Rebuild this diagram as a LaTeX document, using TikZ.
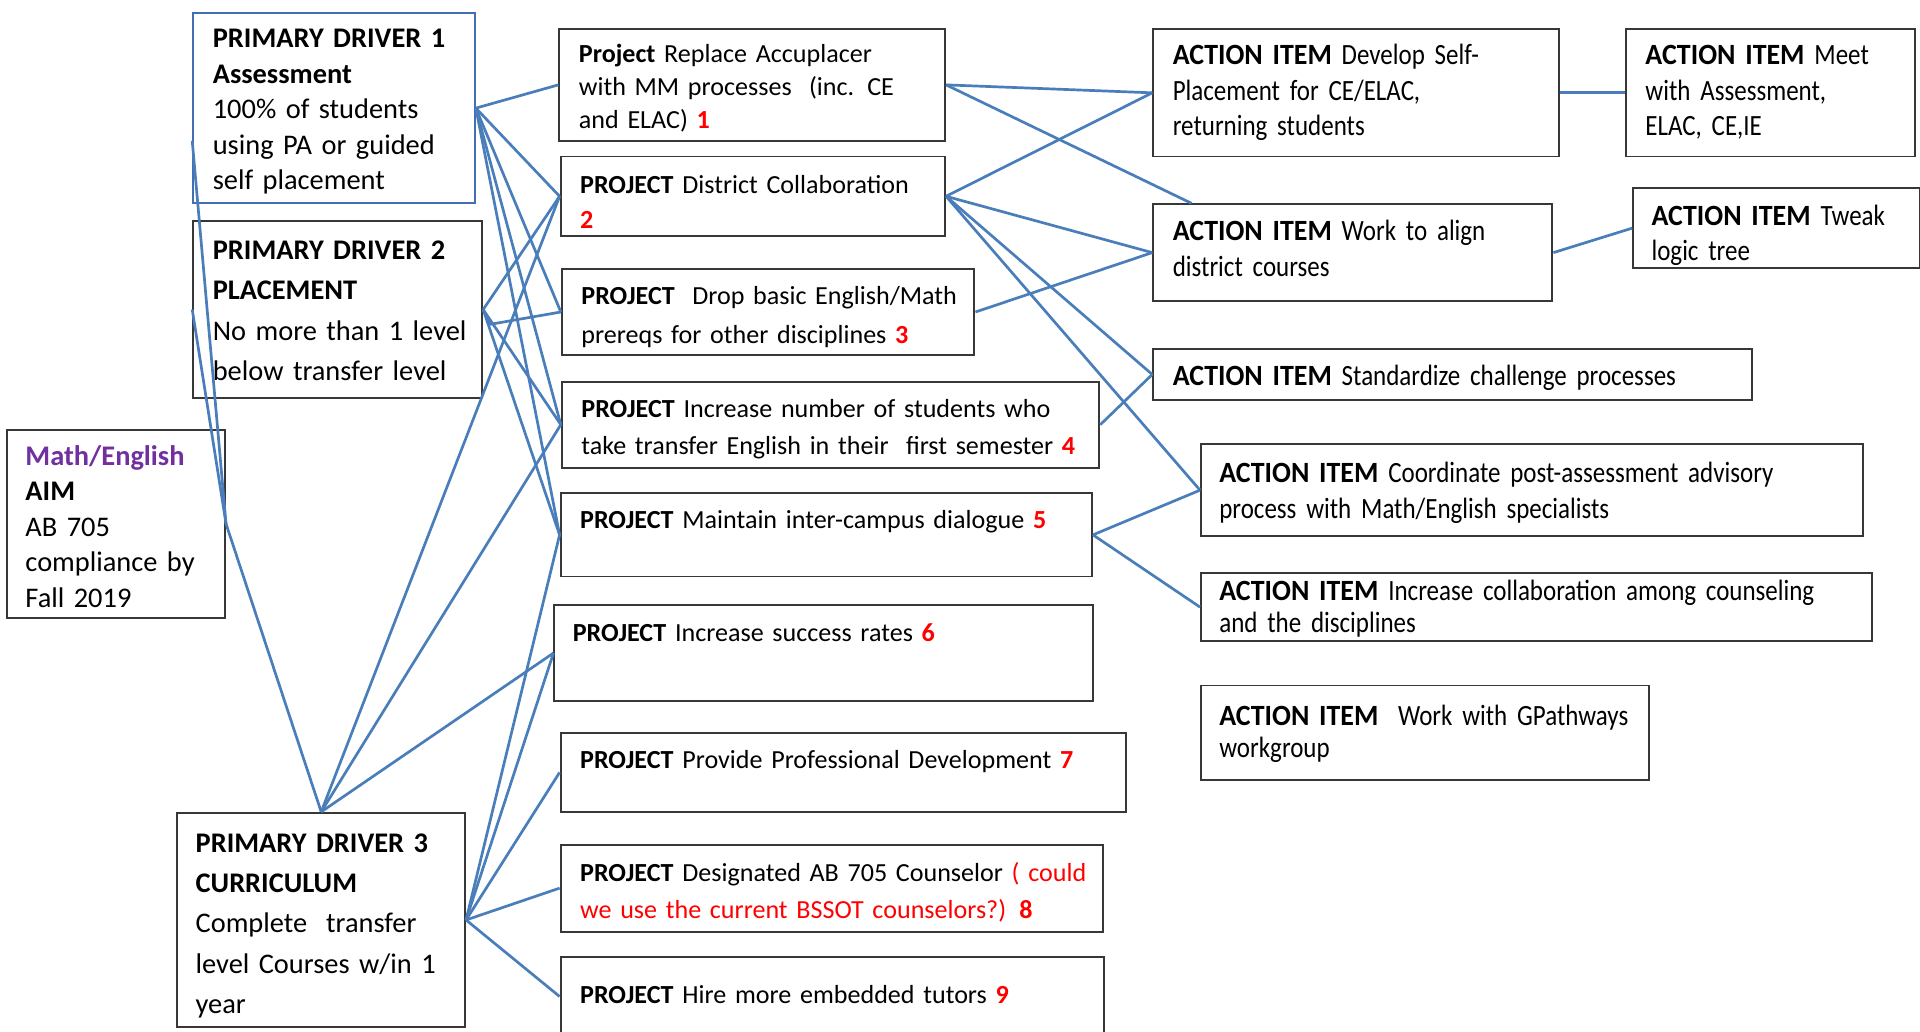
\documentclass[tikz,border=0pt]{standalone}
\usepackage{fontspec}
\setmainfont{Carlito}
\newfontfamily\actfont{Carlito}[FakeStretch=0.85, BoldFeatures={FakeStretch=0.95}]
\definecolor{linkblue}{RGB}{74,126,187}
\definecolor{drvblue}{RGB}{68,110,180}
\definecolor{boxgray}{RGB}{55,55,55}
\definecolor{numred}{RGB}{255,0,0}
\definecolor{aimpurple}{RGB}{112,48,160}
\hyphenpenalty=10000
\exhyphenpenalty=10000

\begin{document}
\begin{tikzpicture}[x=0.5pt, y=-0.5pt,
  box/.style={draw=boxgray, line width=0.8pt, anchor=north west, align=left, inner ysep=0pt, inner xsep=8pt},
  drv/.style={box, font=\fontsize{11.6}{14.5}\selectfont},
  prj/.style={box, font=\fontsize{10.65}{13.5}\selectfont},
  act/.style={box, font=\actfont\fontsize{12}{14.5}\selectfont},
  link/.style={draw=linkblue, line width=1.1pt}]
% red project numbers
\def\nb#1{\textcolor{numred}{\textbf{#1}}}

\useasboundingbox (0,0) rectangle (1568,842);

% aim and primary drivers
\node[drv, draw=drvblue, text width=99pt, text height=14pt, text depth=63.5pt] (d1) at (157,10) {\textbf{PRIMARY DRIVER 1}\\\textbf{Assessment}\\100\% of students\\using PA or guided\\self placement};
\node[drv, font=\fontsize{11.6}{16.5}\selectfont, text width=102pt, text height=15.5pt, text depth=56.5pt] (d2) at (157,180) {\textbf{PRIMARY DRIVER 2}\\\textbf{PLACEMENT}\\\mbox{No more than 1 level}\\below transfer level};
\node[drv, inner xsep=7.5pt, text width=74pt, text height=14.5pt, text depth=62.5pt] (aim) at (5,350) {\textcolor{aimpurple}{\textbf{Math/English}}\\\textbf{AIM}\\AB 705\\compliance by\\Fall 2019};
\node[drv, font=\fontsize{11.6}{16.5}\selectfont, inner xsep=7.5pt, text width=102.5pt, text height=16pt, text depth=71.5pt] (d3) at (144,663) {\textbf{PRIMARY DRIVER 3}\\\textbf{CURRICULUM}\\Complete\ \ transfer\\\mbox{level Courses w/in 1}\\year};

% projects
\node[prj, text width=141.5pt, text height=13.5pt, text depth=32pt] (p1) at (456,23) {\textbf{Project} Replace Accuplacer\\with MM processes\ \ (inc. CE\\and ELAC) \nb{1}};
\node[prj, font=\fontsize{10.65}{14.5}\selectfont, text width=141pt, text height=15pt, text depth=17.5pt] (p2) at (457,127) {\textbf{PROJECT} District Collaboration\\\nb{2}};
\node[prj, font=\fontsize{10.65}{16}\selectfont, text width=152.5pt, text height=14.5pt, text depth=20.5pt] (p3) at (458,219) {\mbox{\textbf{PROJECT}\ \ Drop basic English/Math}\\prereqs for other disciplines \nb{3}};
\node[prj, font=\fontsize{10.65}{15}\selectfont, text width=203.5pt, text height=14.5pt, text depth=20.5pt] (p4) at (458,311) {\mbox{\textbf{PROJECT} Increase number of students who}\\take transfer English in their\ \ first semester \nb{4}};
\node[prj, text width=201pt, text height=14.5pt, text depth=19.5pt] (p5) at (457,402) {\textbf{PROJECT} Maintain inter-campus dialogue \nb{5}};
\node[prj, inner xsep=7.5pt, text width=205pt, text height=15pt, text depth=24.5pt] (p6) at (452,493) {\textbf{PROJECT} Increase success rates \nb{6}};
\node[prj, text width=215pt, text height=14.5pt, text depth=17.5pt] (p7) at (457,598) {\textbf{PROJECT} Provide Professional Development \nb{7}};
\node[prj, font=\fontsize{10.65}{15}\selectfont, text width=205.5pt, text height=15pt, text depth=20.5pt] (p8) at (457,689) {\mbox{\textbf{PROJECT} Designated AB 705 Counselor \textcolor{numred}{( could}}\\\mbox{\textcolor{numred}{we use the current BSSOT counselors?)} \nb{8}}};
\node[prj, text width=206pt, text height=19pt, text depth=13pt] (p9) at (457,781) {\textbf{PROJECT} Hire more embedded tutors \nb{9}};

% action items
\node[act, text width=149.5pt, text height=14.5pt, text depth=37.5pt] (a1) at (941,23) {\textbf{ACTION ITEM} Develop Self-\\Placement for CE/ELAC,\\returning students};
\node[act, text width=102pt, text height=14.5pt, text depth=37.5pt] (a2) at (1327,23) {\mbox{\textbf{ACTION ITEM} Meet}\\with Assessment,\\ELAC, CE,IE};
\node[act, text width=147pt, text height=15pt, text depth=24.5pt] (a3) at (941,166) {\textbf{ACTION ITEM} Work to align\\district courses};
\node[act, inner xsep=7.5pt, text width=102pt, text height=15pt, text depth=17.5pt] (a4) at (1333,153) {\mbox{\textbf{ACTION ITEM} Tweak}\\logic tree};
\node[act, text width=228.5pt, text height=15pt, text depth=6pt] (a5) at (941,284) {\textbf{ACTION ITEM} Standardize challenge processes};
\node[act, font=\actfont\fontsize{12}{15}\selectfont, inner xsep=7.5pt, text width=255.5pt, text height=15.5pt, text depth=22pt] (a6) at (980,362) {\mbox{\textbf{ACTION ITEM} Coordinate post-assessment advisory}\\process with Math/English specialists};
\node[act, font=\actfont\fontsize{12}{13}\selectfont, inner xsep=7.5pt, text width=259pt, text height=11.5pt, text depth=16.5pt] (a7) at (980,467) {\mbox{\textbf{ACTION ITEM} Increase collaboration among counseling}\\and the disciplines};
\node[act, font=\actfont\fontsize{12}{13}\selectfont, inner xsep=7.5pt, text width=168pt, text height=16.5pt, text depth=22pt] (a8) at (980,559) {\mbox{\textbf{ACTION ITEM}\ \ Work with GPathways}\\workgroup};

% aim to drivers
\draw[link] (aim.east) -- (d1.193);
\draw[link] (aim.east) -- (d2.west);
\draw[link] (aim.east) -- (d3.north);

% drivers to projects
\draw[link] (d1.east) -- (p1.west);
\draw[link] (d1.east) -- (p2.west);
\draw[link] (d1.east) -- (p3.west);
\draw[link] (d1.east) -- (p4.west);
\draw[link] (d1.east) -- (p5.west);
\draw[link] (d2.east) -- (p2.west);
\draw[link] (d2.east) -- ++(6,12) -- (p3.west);
\draw[link] (d2.east) -- (p4.west);
\draw[link] (d2.east) -- (p5.west);
\draw[link] (d3.north) -- (p2.west);
\draw[link] (d3.north) -- (p4.west);
\draw[link] (d3.north) -- (p6.west);
\draw[link] (d3.east) -- (p5.west);
\draw[link] (d3.east) -- (p6.west);
\draw[link] (d3.east) -- (p7.west);
\draw[link] (d3.east) -- (p8.west);
\draw[link] (d3.east) -- (p9.west);

% projects to action items
\draw[link] (p1.east) -- (a1.west);
\draw[link] (p1.east) -- (a3.163.7);
\draw[link] (p2.east) -- (a1.west);
\draw[link] (p2.east) -- (a3.west);
\draw[link] (p2.east) -- (a5.west);
\draw[link] (p2.east) -- (a6.west);
\draw[link] (p3.east) -- (a3.west);
\draw[link] (p4.east) -- (a5.west);
\draw[link] (p5.east) -- (a6.west);
\draw[link] (p5.east) -- (a7.west);
\draw[link] (a1.east) -- (a2.west);
\draw[link] (a3.east) -- (a4.west);
\end{tikzpicture}
\end{document}
